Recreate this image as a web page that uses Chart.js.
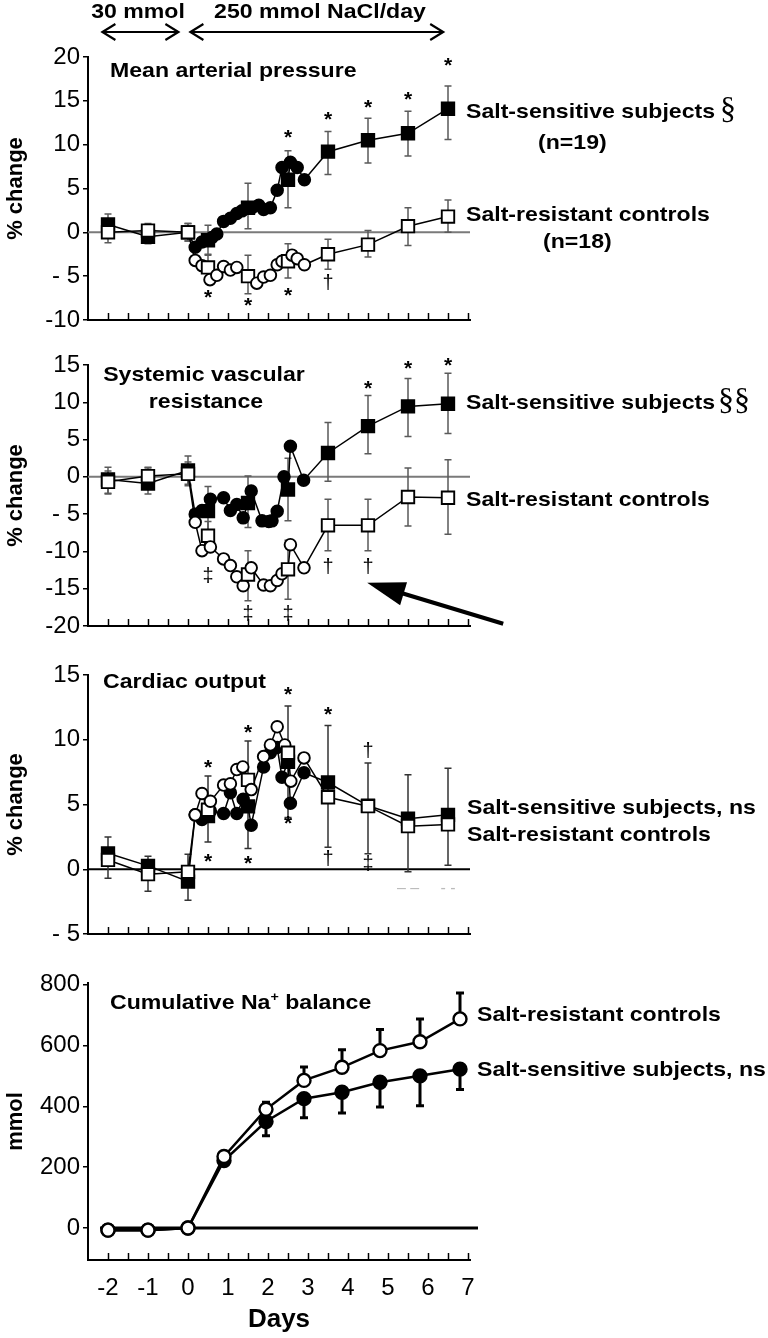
<!DOCTYPE html>
<html>
<head>
<meta charset="utf-8">
<script src="https://cdn.jsdelivr.net/npm/chart.js@4.4.1/dist/chart.umd.min.js"></script>
<style>
  body { margin: 0; background: #fff; }
  #wrap { position: relative; width: 768px; height: 1338px; background: #fff; }
  canvas { position: absolute; left: 0; }
</style>
</head>
<body>
<div id="wrap">
  <canvas id="map" width="768" height="335" style="top:0px"></canvas>
  <canvas id="svr" width="768" height="306" style="top:335px"></canvas>
  <canvas id="co" width="768" height="308" style="top:641px"></canvas>
  <canvas id="na" width="768" height="393" style="top:945px"></canvas>
</div>
<script>
// ---------- Axis ticks ----------

const xHalfTicks = [-2, -1.5, -1, -0.5, 0, 0.5, 1, 1.5, 2, 2.5, 3, 3.5, 4, 4.5, 5, 5.5, 6, 6.5, 7];
const dayTicks = [-2, -1, 0, 1, 2, 3, 4, 5, 6, 7];
const dayLabels = ['-2', '-1', '0', '1', '2', '3', '4', '5', '6', '7'];

// days with daily means (squares)
const sqDays = [-2, -1, 0, 0.5, 1.5, 2.5, 3.5, 4.5, 5.5, 6.5];

// ---------- Mean arterial pressure ----------

const mapYTicks = [-10, -5, 0, 5, 10, 15, 20];
const mapYLabels = ['-10', '- 5', '0', '5', '10', '15', '20'];
const mapSens = [0.9, -0.5, 0, -0.9, 2.8, 6.0, 9.2, 10.5, 11.3, 14.1];
const mapSensHi = [2.1, 0.6, 1.0, 0.8, 5.6, 9.3, 11.5, 13.0, 13.8, 16.7];
const mapSensLo = [-0.3, -1.3, -1.0, -2.6, 0.4, 2.8, 6.6, 7.9, 8.7, 10.6];
const mapRes = [0, 0.2, 0, -4.0, -5.0, -3.3, -2.5, -1.4, 0.7, 1.8];
const mapResHi = [1.2, 1.0, 1.0, -2.5, -2.6, -1.3, -0.8, 0.2, 2.8, 3.7];
const mapResLo = [-1.2, -0.8, -1.0, -5.5, -7.0, -5.2, -4.2, -2.8, -1.5, 0.0];
const mapSensHrDays = [0.18, 0.35, 0.6, 0.72, 0.89, 1.06, 1.22, 1.35, 1.6, 1.77, 1.89, 2.06, 2.23, 2.35, 2.56, 2.73, 2.91];
const mapSensHr = [-1.7, -1.1, -0.6, -0.2, 1.25, 1.6, 2.15, 2.45, 2.8, 3.1, 2.6, 2.8, 4.8, 7.4, 8.0, 7.4, 6.0];
const mapResHrDays = [0.18, 0.35, 0.55, 0.72, 0.89, 1.06, 1.22, 1.72, 1.89, 2.06, 2.23, 2.35, 2.6, 2.73, 2.91];
const mapResHr = [-3.2, -3.8, -5.4, -4.9, -3.9, -4.3, -4.0, -5.8, -5.1, -4.9, -3.7, -3.3, -2.6, -3.0, -3.7];
const mapMarks = [[2.5, 11.2, '*'], [3.5, 13.3, '*'], [4.5, 14.6, '*'], [5.5, 15.5, '*'], [6.5, 19.4, '*'],
  [0.5, -7.0, '*'], [1.5, -8.0, '*'], [2.5, -6.8, '*'], [3.5, -5.7, '†']];

// ---------- Systemic vascular resistance ----------

const svrYTicks = [-20, -15, -10, -5, 0, 5, 10, 15];
const svrYLabels = ['-20', '-15', '-10', '- 5', '0', '5', '10', '15'];
const svrSens = [-0.35, -0.9, 0.85, -4.6, -3.5, -1.7, 3.2, 6.8, 9.45, 9.8];
const svrSensHi = [1.3, 1.3, 2.8, -1.3, 0.1, 2.5, 7.3, 10.9, 13.2, 13.9];
const svrSensLo = [-2.3, -2.3, -1.0, -7.5, -6.8, -5.9, -0.6, 3.1, 5.4, 5.8];
const svrRes = [-0.67, 0.1, 0.4, -7.9, -13.1, -12.4, -6.5, -6.5, -2.7, -2.8];
const svrResHi = [0.8, 1.2, 2.0, -6.0, -9.9, -8.5, -3.0, -3.0, 1.2, 2.3];
const svrResLo = [-2.2, -1.2, -1.2, -10.0, -16.6, -16.4, -9.9, -9.9, -6.6, -7.7];
const svrSensHrDays = [0.18, 0.35, 0.56, 0.89, 1.06, 1.22, 1.38, 1.58, 1.85, 2.02, 2.1, 2.23, 2.4, 2.56, 2.89];
const svrSensHr = [-5.0, -4.5, -3.0, -2.8, -4.5, -3.7, -5.5, -1.9, -5.9, -6.0, -5.9, -4.6, 0.0, 4.1, -0.45];
const svrResHrDays = [0.18, 0.35, 0.56, 0.89, 1.06, 1.22, 1.38, 1.58, 1.89, 2.06, 2.23, 2.35, 2.56, 2.9];
const svrResHr = [-6.1, -9.9, -9.4, -11.0, -11.9, -13.4, -14.6, -12.2, -14.5, -14.6, -13.9, -13.0, -9.1, -12.2];
const svrMarks = [[4.5, 12.3, '*'], [5.5, 15.0, '*'], [6.5, 15.4, '*'],
  [0.5, -13.1, '‡'], [1.5, -18.2, '‡'], [2.5, -18.2, '‡'], [3.5, -12.0, '†'], [4.5, -12.0, '†']];

// ---------- Cardiac output ----------

const coYTicks = [-5, 0, 5, 10, 15];
const coYLabels = ['- 5', '0', '5', '10', '15'];
const coSens = [1.23, 0.26, -0.95, 4.1, 4.85, 8.3, 6.7, 4.9, 3.9, 4.2];
const coSensHi = [2.5, 1.0, 1.15, 7.2, 9.9, 12.6, 11.1, 8.2, 7.3, 7.8];
const coSensLo = [-0.7, -1.7, -2.4, 2.1, 1.6, 4.0, 1.7, 1.2, -0.2, 0.3];
const coRes = [0.72, -0.38, -0.2, 4.6, 6.9, 9.0, 5.56, 4.87, 3.33, 3.46];
const coSensHrDays = [0.18, 0.35, 0.56, 0.89, 1.06, 1.22, 1.38, 1.58, 1.89, 2.06, 2.23, 2.35, 2.56, 2.9];
const coSensHr = [4.2, 3.85, 4.5, 4.3, 5.9, 4.3, 5.4, 3.4, 7.9, 9.0, 9.4, 7.1, 5.1, 7.45];
const coResHrDays = [0.18, 0.35, 0.56, 0.89, 1.06, 1.22, 1.37, 1.58, 1.89, 2.06, 2.23, 2.42, 2.57, 2.9];
const coResHr = [4.2, 5.85, 5.25, 6.5, 6.6, 7.7, 7.9, 6.15, 8.7, 9.6, 11.0, 9.6, 6.8, 8.6];
const coMarks = [[0.5, 8.1, '*'], [1.5, 10.8, '*'], [2.5, 13.8, '*'], [3.5, 12.2, '*'], [4.5, 9.2, '†'],
  [0.5, 0.85, '*'], [1.5, 0.7, '*'], [2.5, 3.8, '*'], [3.5, 0.9, '†'], [4.5, 0.5, '‡']];
const coFaint = [[5.5, -1.5, '– –'], [6.5, -1.5, '- -']];

// ---------- Cumulative Na+ balance ----------

const naYTicks = [0, 200, 400, 600, 800];
const naYLabels = ['0', '200', '400', '600', '800'];
const naDays = [-2, -1, 0, 0.9, 1.95, 2.9, 3.85, 4.8, 5.8, 6.8];
const naRes = [-7, -7, 0, 235, 390, 485, 528, 583, 612, 687];
const naResHi = [null, null, null, null, 413, 529, 586, 652, 687, 772];
const naSens = [-7, -7, 0, 222, 350, 425, 446, 479, 500, 522];
const naSensLo = [null, null, null, null, 303, 362, 378, 398, 402, 455];

// ---------- Helpers ----------

const FONT = 'Liberation Sans, Arial, Helvetica, sans-serif';
const SERIF = 'Liberation Serif, Times New Roman, serif';
Chart.defaults.font.family = FONT;
Chart.defaults.color = '#000';

function mergePts(sqX, sqY, hrX, hrY) {
  const pts = sqX.map((x, i) => ({ x, y: sqY[i], sq: true }))
    .concat(hrX.map((x, i) => ({ x, y: hrY[i], sq: false })));
  pts.sort((a, b) => a.x - b.x);
  return pts;
}

function series(pts, filled, err) {
  return Object.assign({
    data: pts,
    borderColor: '#000',
    borderWidth: 1.5,
    pointStyle: pts.map(p => p.sq ? 'rect' : 'circle'),
    pointRadius: pts.map(p => p.sq ? 8.8 : 5.8),
    pointBackgroundColor: filled ? '#000' : '#fff',
    pointBorderColor: '#000',
    pointBorderWidth: 1.9,
    tension: 0,
    clip: false,
  }, err);
}

function drawText(ctx, t, x, y, o) {
  ctx.save();
  ctx.font = o.font || ('bold 21px ' + FONT);
  ctx.fillStyle = o.color || '#000';
  ctx.textAlign = o.align || 'left';
  ctx.textBaseline = 'middle';
  ctx.translate(x, y);
  ctx.scale(o.sx || 1.1, 1);
  ctx.fillText(t, 0, 0);
  ctx.restore();
}

function drawParts(ctx, parts, x, y) {
  ctx.save();
  ctx.translate(x, y);
  ctx.scale(1.1, 1);
  ctx.textBaseline = 'middle';
  ctx.fillStyle = '#000';
  let cx = 0;
  parts.forEach(p => {
    ctx.font = p.sup ? ('bold 13px ' + FONT) : ('bold 21px ' + FONT);
    ctx.fillText(p.t, cx, p.sup ? -6 : 0);
    cx += ctx.measureText(p.t).width;
  });
  ctx.restore();
}

function drawMark(ctx, t, x, y, font, color) {
  ctx.font = font;
  ctx.fillStyle = color;
  ctx.textAlign = 'center';
  ctx.textBaseline = 'alphabetic';
  const m = ctx.measureText(t);
  ctx.fillText(t, x, y + (m.actualBoundingBoxAscent - m.actualBoundingBoxDescent) / 2);
}

function arrowHead(ctx, tx, ty, fx, fy, len, half, filled) {
  const a = Math.atan2(ty - fy, tx - fx);
  const bx = tx - len * Math.cos(a), by = ty - len * Math.sin(a);
  const px = -Math.sin(a) * half, py = Math.cos(a) * half;
  ctx.beginPath();
  ctx.moveTo(bx + px, by + py);
  ctx.lineTo(tx, ty);
  ctx.lineTo(bx - px, by - py);
  if (filled) { ctx.closePath(); ctx.fill(); } else { ctx.stroke(); }
}

// ---------- Extras plugin: zero line, ticks, error bars, marks, labels ----------

const extras = {
  id: 'extras',
  beforeDatasetsDraw(chart, args, o) {
    const { ctx, chartArea, scales: { x, y } } = chart;
    ctx.save();
    if (o.zero) {
      const yy = y.getPixelForValue(0);
      ctx.strokeStyle = o.zero.color;
      ctx.lineWidth = o.zero.width;
      ctx.beginPath();
      ctx.moveTo(x.getPixelForValue(o.zero.from), yy);
      ctx.lineTo(x.getPixelForValue(o.zero.to), yy);
      ctx.stroke();
    }
    // half-day ticks, pointing up from the axis
    ctx.strokeStyle = '#000';
    ctx.lineWidth = 1.5;
    xHalfTicks.forEach(d => {
      const px = Math.round(x.getPixelForValue(d)) + 0.5;
      ctx.beginPath();
      ctx.moveTo(px, chartArea.bottom);
      ctx.lineTo(px, chartArea.bottom - 7);
      ctx.stroke();
    });
    chart.data.datasets.forEach(ds => {
      if (!ds.errX) return;
      ctx.strokeStyle = ds.errColor;
      ctx.lineWidth = ds.errWidth;
      ds.errX.forEach((d, i) => {
        const hi = ds.errHi[i], lo = ds.errLo[i];
        if (hi == null && lo == null) return;
        const px = x.getPixelForValue(d);
        const top = y.getPixelForValue(hi != null ? hi : ds.errY[i]);
        const bot = y.getPixelForValue(lo != null ? lo : ds.errY[i]);
        ctx.beginPath();
        ctx.moveTo(px, top);
        ctx.lineTo(px, bot);
        if (hi != null) { ctx.moveTo(px - ds.errCap, top); ctx.lineTo(px + ds.errCap, top); }
        if (lo != null) { ctx.moveTo(px - ds.errCap, bot); ctx.lineTo(px + ds.errCap, bot); }
        ctx.stroke();
      });
    });
    ctx.restore();
  },
  afterDraw(chart, args, o) {
    const { ctx, scales: { x, y } } = chart;
    const top = chart.canvas.offsetTop;
    ctx.save();
    (o.marks || []).forEach(m => {
      const f = m[2] === '*' ? ('bold 21px ' + FONT) : ('20px ' + FONT);
      drawMark(ctx, m[2], x.getPixelForValue(m[0]), y.getPixelForValue(m[1]), f, '#000');
    });
    (o.faint || []).forEach(m => {
      drawMark(ctx, m[2], x.getPixelForValue(m[0]), y.getPixelForValue(m[1]), '16px ' + FONT, '#bbb');
    });
    (o.labels || []).forEach(l => {
      if (l.parts) drawParts(ctx, l.parts, l.x, l.y - top);
      else drawText(ctx, l.t, l.x, l.y - top, l);
    });
    (o.arrows || []).forEach(a => {
      const x1 = x.getPixelForValue(a.x1), x2 = x.getPixelForValue(a.x2);
      const y1 = a.py != null ? a.py - top : y.getPixelForValue(a.y1);
      const y2 = a.py != null ? a.py - top : y.getPixelForValue(a.y2);
      ctx.strokeStyle = '#000';
      ctx.fillStyle = '#000';
      ctx.lineWidth = a.width;
      ctx.lineCap = 'butt';
      if (a.filled) {
        const ang = Math.atan2(y2 - y1, x2 - x1);
        ctx.beginPath();
        ctx.moveTo(x1, y1);
        ctx.lineTo(x2 - a.len * 0.8 * Math.cos(ang), y2 - a.len * 0.8 * Math.sin(ang));
        ctx.stroke();
        arrowHead(ctx, x2, y2, x1, y1, a.len, a.half, true);
      } else {
        ctx.beginPath();
        ctx.moveTo(x1, y1);
        ctx.lineTo(x2, y2);
        ctx.stroke();
        arrowHead(ctx, x2, y2, x1, y1, a.len, a.half, false);
        arrowHead(ctx, x1, y1, x2, y2, a.len, a.half, false);
      }
    });
    ctx.restore();
  }
};

function makePanel(id, cfg) {
  const showDays = !!cfg.showDays;
  return new Chart(document.getElementById(id), {
    type: 'line',
    data: { datasets: cfg.datasets },
    options: {
      responsive: false,
      animation: false,
      events: [],
      layout: { padding: { top: cfg.padTop, bottom: cfg.padBottom, left: 0, right: 298 } },
      plugins: { legend: { display: false }, tooltip: { enabled: false }, extras: cfg.extras },
      scales: {
        x: {
          type: 'linear',
          min: -2.5,
          max: 7.05,
          afterBuildTicks: s => { s.ticks = dayTicks.map(v => ({ value: v })); },
          afterFit: s => { s.height = cfg.xHeight; },
          ticks: {
            display: showDays, autoSkip: false, maxRotation: 0, padding: 14,
            font: { size: 24 }, callback: (v, i) => dayLabels[i]
          },
          grid: { display: false, drawTicks: false },
          border: { display: true, color: '#000', width: 2 },
          title: showDays
            ? { display: true, text: 'Days', font: { size: 26, weight: 'bold' }, padding: { top: 2, bottom: 0 } }
            : { display: false }
        },
        y: {
          min: cfg.yMin,
          max: cfg.yMax,
          afterBuildTicks: s => { s.ticks = cfg.yTicks.map(v => ({ value: v })); },
          afterFit: s => { s.width = 88; },
          ticks: { font: { size: 24, lineHeight: 1 }, padding: 3, callback: (v, i) => cfg.yLabels[i] },
          grid: { drawOnChartArea: false, drawTicks: true, tickLength: 5, color: '#000', lineWidth: 1.5 },
          border: { display: true, color: '#000', width: 2 },
          title: { display: true, text: cfg.yTitle, font: { size: 22, weight: 'bold' }, padding: { top: 3, bottom: 0 } }
        }
      }
    },
    plugins: [extras]
  });
}

const grayErr = { errColor: '#5a5a5a', errWidth: 1.5, errCap: 3.5 };

// ---------- Panels ----------

makePanel('map', {
  yMin: -10, yMax: 20, yTicks: mapYTicks, yLabels: mapYLabels, yTitle: '% change',
  padTop: 57, padBottom: 14, xHeight: 0,
  datasets: [
    series(mergePts(sqDays, mapRes, mapResHrDays, mapResHr), false,
      Object.assign({ errX: sqDays, errY: mapRes, errHi: mapResHi, errLo: mapResLo }, grayErr)),
    series(mergePts(sqDays, mapSens, mapSensHrDays, mapSensHr), true,
      Object.assign({ errX: sqDays, errY: mapSens, errHi: mapSensHi, errLo: mapSensLo }, grayErr))
  ],
  extras: {
    zero: { color: '#7a7a7a', width: 2, from: -2.5, to: 7.05 },
    marks: mapMarks,
    arrows: [
      { x1: -2.14, x2: -0.24, py: 32, width: 2.2, len: 13, half: 8 },
      { x1: 0.06, x2: 6.38, py: 32, width: 2.2, len: 13, half: 8 }
    ],
    labels: [
      { t: '30 mmol', x: 138, y: 12, align: 'center' },
      { t: '250 mmol NaCl/day', x: 320, y: 12, align: 'center' },
      { t: 'Mean arterial pressure', x: 110, y: 71 },
      { t: 'Salt-sensitive subjects', x: 466, y: 112 },
      { t: '§', x: 720, y: 111, font: '32px ' + SERIF, sx: 1 },
      { t: '(n=19)', x: 538, y: 143 },
      { t: 'Salt-resistant controls', x: 466, y: 215 },
      { t: '(n=18)', x: 543, y: 242 }
    ]
  }
});

makePanel('svr', {
  yMin: -20, yMax: 15, yTicks: svrYTicks, yLabels: svrYLabels, yTitle: '% change',
  padTop: 30, padBottom: 14, xHeight: 0,
  datasets: [
    series(mergePts(sqDays, svrRes, svrResHrDays, svrResHr), false,
      Object.assign({ errX: sqDays, errY: svrRes, errHi: svrResHi, errLo: svrResLo }, grayErr)),
    series(mergePts(sqDays, svrSens, svrSensHrDays, svrSensHr), true,
      Object.assign({ errX: sqDays, errY: svrSens, errHi: svrSensHi, errLo: svrSensLo }, grayErr))
  ],
  extras: {
    zero: { color: '#7a7a7a', width: 2, from: -2.5, to: 7.05 },
    marks: svrMarks,
    arrows: [{ x1: 7.88, y1: -19.7, x2: 4.48, y2: -14.2, filled: true, width: 4, len: 38, half: 12 }],
    labels: [
      { t: 'Systemic vascular', x: 204, y: 375, align: 'center' },
      { t: 'resistance', x: 206, y: 402, align: 'center' },
      { t: 'Salt-sensitive subjects', x: 466, y: 403 },
      { t: '§§', x: 718, y: 402, font: '32px ' + SERIF, sx: 1 },
      { t: 'Salt-resistant controls', x: 466, y: 500 }
    ]
  }
});

makePanel('co', {
  yMin: -5, yMax: 15, yTicks: coYTicks, yLabels: coYLabels, yTitle: '% change',
  padTop: 34, padBottom: 14, xHeight: 0,
  datasets: [
    series(mergePts(sqDays, coRes, coResHrDays, coResHr), false, {}),
    series(mergePts(sqDays, coSens, coSensHrDays, coSensHr), true,
      Object.assign({ errX: sqDays, errY: coSens, errHi: coSensHi, errLo: coSensLo }, grayErr, { errColor: '#333' }))
  ],
  extras: {
    zero: { color: '#000', width: 2, from: -2.5, to: 7.05 },
    marks: coMarks,
    faint: coFaint,
    labels: [
      { t: 'Cardiac output', x: 103, y: 682 },
      { t: 'Salt-sensitive subjects, ns', x: 467, y: 808 },
      { t: 'Salt-resistant controls', x: 467, y: 835 }
    ]
  }
});

function naSeries(vals, filled, err) {
  return Object.assign({
    data: naDays.map((d, i) => ({ x: d, y: vals[i] })),
    borderColor: '#000',
    borderWidth: 2.5,
    pointStyle: 'circle',
    pointRadius: 6.5,
    pointBackgroundColor: filled ? '#000' : '#fff',
    pointBorderColor: '#000',
    pointBorderWidth: 2.4,
    tension: 0,
    clip: false,
    errColor: '#000', errWidth: 3, errCap: 4
  }, err);
}

makePanel('na', {
  yMin: -105, yMax: 805, yTicks: naYTicks, yLabels: naYLabels, yTitle: 'mmol',
  padTop: 38, padBottom: 3, xHeight: 75, showDays: true,
  datasets: [
    naSeries(naRes, false, { errX: naDays, errY: naRes, errHi: naResHi, errLo: naDays.map(() => null) }),
    naSeries(naSens, true, { errX: naDays, errY: naSens, errHi: naDays.map(() => null), errLo: naSensLo })
  ],
  extras: {
    zero: { color: '#000', width: 3, from: -2.2, to: 7.25 },
    labels: [
      { parts: [{ t: 'Cumulative Na' }, { t: '+', sup: true }, { t: ' balance' }], x: 110, y: 1003 },
      { t: 'Salt-resistant controls', x: 477, y: 1015 },
      { t: 'Salt-sensitive subjects, ns', x: 477, y: 1070 }
    ]
  }
});
</script>
</body>
</html>
